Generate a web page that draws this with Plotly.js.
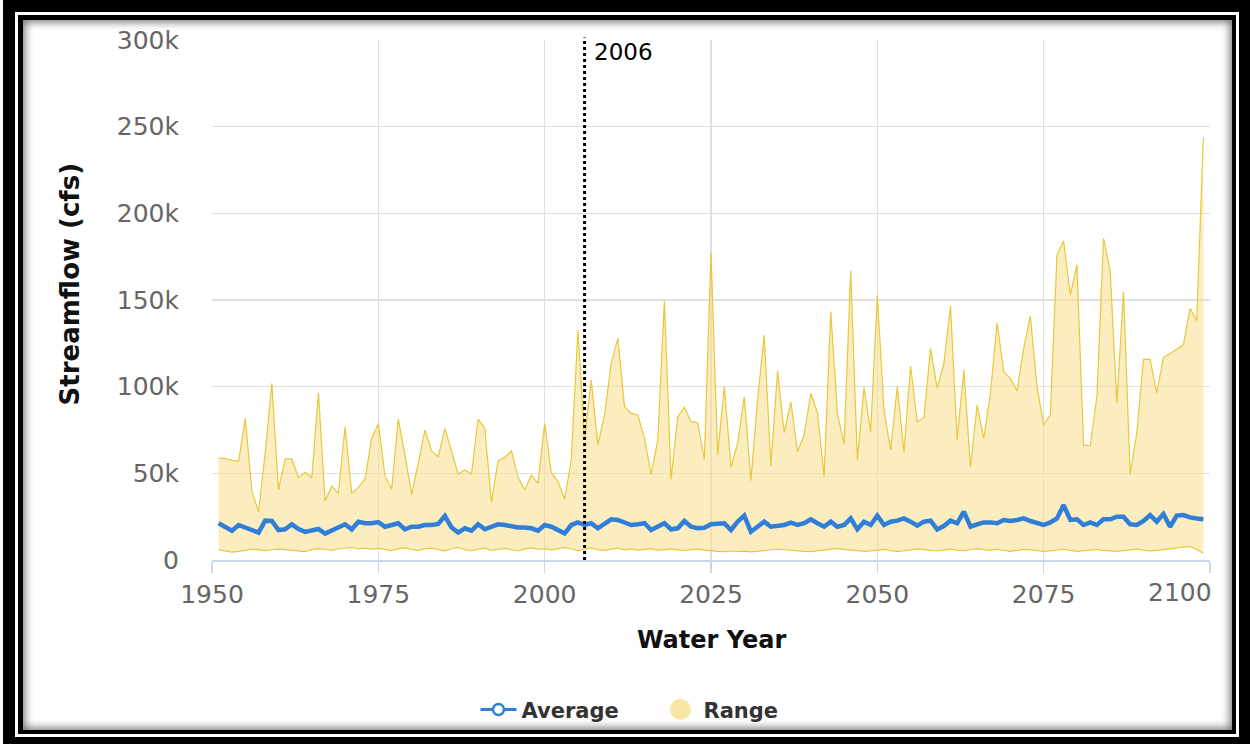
<!DOCTYPE html>
<html>
<head>
<meta charset="utf-8">
<script src="https://cdn.plot.ly/plotly-3.0.1.min.js"></script>
<style>
  html, body { margin: 0; padding: 0; background: #fff; }
  #page { position: relative; width: 1250px; height: 744px; overflow: hidden; background: #fff; }
  .frame { position: absolute; }
  #f1 { left: 3px; top: 0; width: 1247px; height: 744px; background: #000; }
  #f2 { left: 15px; top: 12px; width: 1224px; height: 725px; background: #fff; }
  #f3 { left: 18px; top: 15px; width: 1218px; height: 719px; background: #000; }
  #f4 { left: 23px; top: 20px; width: 1209px; height: 710px; background: #fff;
        box-shadow: inset 0 0 9px 2px rgba(0,0,0,0.55); }
  #chart { position: absolute; left: 0; top: 0; width: 1250px; height: 744px; }
</style>
</head>
<body>
<div id="page">
  <div class="frame" id="f1"></div>
  <div class="frame" id="f2"></div>
  <div class="frame" id="f3"></div>
  <div class="frame" id="f4"></div>
  <div id="chart"></div>
</div>
<script>
// Water years covered by the series
const firstYear = 1951;

// Upper bound of the streamflow range (thousand cfs), 1951-2099
const rangeHigh = [
  58.7, 58.5, 57.5, 57.0, 81.7, 39.4, 27.9, 62.0, 101.9, 40.4, 58.3, 58.3, 47.5, 50.6, 47.5, 96.5, 34.0, 42.7, 38.5, 76.9, 38.5, 41.9, 46.7, 70.2, 78.8,
  48.5, 40.8, 81.3, 60.6, 37.9, 55.8, 75.0, 62.9, 59.6, 75.8, 62.5, 49.6, 51.9, 49.6, 81.3, 76.0, 33.3, 57.3, 59.2, 62.9, 47.7, 40.4, 49.0, 44.2, 78.8,
  50.6, 45.2, 35.0, 57.7, 132.7, 70.0, 103.8, 66.3, 83.7, 113.5, 127.9, 88.5, 84.6, 83.7, 70.2, 49.6, 69.2, 149.4, 46.5, 82.7, 88.1, 79.8, 79.2, 58.1, 177.3,
  60.6, 100.4, 53.5, 67.3, 94.2, 45.8, 92.3, 129.8, 54.2, 109.2, 73.5, 91.3, 62.5, 72.1, 96.2, 85.0, 48.1, 143.3, 84.6, 66.9, 166.9, 57.7, 99.6, 74.0, 152.9,
  86.5, 63.5, 100.0, 62.5, 111.9, 79.8, 82.1, 122.1, 99.0, 113.5, 146.5, 69.2, 109.6, 53.5, 89.4, 70.2, 96.2, 136.9, 108.7, 104.8, 97.5, 122.1, 140.8, 100.0, 77.9,
  83.7, 176.0, 184.2, 152.9, 170.2, 66.3, 66.0, 94.2, 185.6, 166.3, 90.4, 154.8, 49.6, 73.1, 115.8, 115.8, 96.2, 116.9, 119.2, 121.5, 124.0, 145.2, 138.1, 243.8
];

// Lower bound of the streamflow range (thousand cfs)
const rangeLow = [
  5.8, 5.2, 4.6, 5.0, 5.6, 6.2, 5.8, 5.4, 5.9, 6.3, 6.0, 5.5, 5.2, 4.8, 6.0, 6.6, 6.2, 5.6, 6.5, 6.8, 7.2, 6.4, 6.9, 6.3, 6.8,
  6.0, 5.4, 6.6, 7.0, 6.2, 5.6, 6.4, 6.9, 6.1, 5.3, 6.5, 7.2, 6.0, 5.2, 6.3, 6.8, 5.5, 6.1, 6.7, 5.9, 5.2, 6.4, 7.0, 6.2, 6.6,
  5.8, 6.7, 7.3, 6.5, 5.4, 6.2, 6.9, 6.0, 5.6, 6.3, 6.8, 5.9, 6.4, 5.7, 6.2, 6.6, 5.6, 6.1, 6.4, 5.8, 5.5, 6.0, 6.3, 5.7, 5.2,
  5.0, 4.8, 5.2, 4.9, 5.1, 4.7, 5.0, 5.4, 5.8, 6.2, 5.9, 5.5, 5.2, 5.0, 4.8, 5.3, 5.7, 6.3, 6.7, 6.1, 5.6, 5.2, 5.0, 5.3, 5.8,
  6.1, 5.4, 5.0, 5.3, 5.9, 6.4, 6.0, 5.5, 5.2, 5.8, 6.3, 5.7, 5.4, 5.9, 6.6, 6.0, 5.6, 6.2, 5.4, 5.0, 5.6, 6.1, 5.8, 5.2, 4.9,
  5.3, 5.7, 6.2, 5.5, 5.0, 5.4, 5.8, 6.1, 5.6, 5.2, 5.0, 5.4, 5.9, 6.3, 5.7, 5.3, 5.6, 6.0, 6.4, 6.8, 7.4, 7.8, 6.2, 3.9
];

// Average annual streamflow (thousand cfs)
const average = [
  21.2, 18.8, 16.9, 20.2, 18.8, 17.7, 15.8, 22.7, 22.5, 17.3, 17.7, 20.6, 17.9, 16.2, 16.9, 17.9, 15.2, 16.9, 18.8, 20.6, 17.7, 22.1, 21.2, 21.2, 21.9,
  19.2, 20.2, 21.2, 17.7, 19.2, 19.2, 20.2, 20.2, 20.8, 25.4, 18.8, 15.8, 18.3, 16.9, 20.6, 17.7, 19.2, 20.6, 20.2, 19.2, 18.8, 18.8, 18.3, 16.9, 20.2,
  19.2, 17.3, 15.4, 20.2, 21.7, 20.2, 21.2, 18.3, 21.2, 23.5, 23.1, 21.7, 20.2, 20.6, 21.2, 17.3, 19.2, 21.2, 17.7, 18.3, 22.5, 19.2, 18.3, 18.6, 20.6,
  20.6, 21.2, 17.3, 22.1, 25.6, 16.3, 19.2, 22.1, 19.2, 19.6, 20.2, 21.5, 20.2, 21.2, 23.5, 21.2, 19.2, 22.1, 19.2, 20.2, 24.0, 17.7, 22.1, 20.2, 25.6,
  20.2, 22.1, 22.7, 24.0, 22.1, 19.8, 22.1, 22.7, 17.7, 19.6, 22.7, 21.2, 27.9, 19.2, 20.6, 21.7, 21.7, 21.2, 23.1, 22.5, 23.1, 24.0, 22.5, 21.2, 20.2,
  21.7, 24.0, 31.7, 23.1, 23.5, 20.2, 21.7, 20.2, 23.5, 23.5, 25.0, 25.0, 20.6, 20.2, 22.5, 25.9, 22.1, 26.5, 19.2, 25.6, 25.9, 24.6, 24.0, 23.5
];

// Axis ticks
const xTicks = [1950, 1975, 2000, 2025, 2050, 2075, 2100];
const xTickText = ['1950', '1975', '2000', '2025', '2050', '2075', ''];
const lastXTick = '2100';
const yTicks = [0, 50000, 100000, 150000, 200000, 250000, 300000];
const yTickText = ['0', '50k', '100k', '150k', '200k', '250k', '300k'];

// Start of the projection period
const markerYear = 2006;

const years = rangeHigh.map((_, i) => firstYear + i);
const toCfs = arr => arr.map(v => v * 1000);

const FONT = 'DejaVu Sans, Verdana, sans-serif';
const BLUE = '#2f7ed8';
const GOLD = '#e8c83a';
const FILL = 'rgba(248, 222, 140, 0.55)';

const traces = [
  {
    x: years, y: toCfs(rangeLow), type: 'scatter', mode: 'lines',
    line: { color: GOLD, width: 1.2 }, showlegend: false, hoverinfo: 'skip'
  },
  {
    x: years, y: toCfs(rangeHigh), type: 'scatter', mode: 'lines',
    fill: 'tonexty', fillcolor: FILL,
    line: { color: GOLD, width: 1.2 }, showlegend: false, name: 'Range'
  },
  {
    x: years, y: toCfs(average), type: 'scatter', mode: 'lines',
    line: { color: BLUE, width: 4.5 }, showlegend: false, name: 'Average'
  },
  // legend entries
  {
    x: [null], y: [null], type: 'scatter', mode: 'lines+markers', name: 'Average',
    line: { color: BLUE, width: 3 },
    marker: { symbol: 'circle', size: 11, color: '#ffffff', line: { color: BLUE, width: 2.5 } }
  },
  {
    x: [null], y: [null], type: 'scatter', mode: 'markers', name: 'Range',
    marker: { symbol: 'circle', size: 16, color: '#f9e6a6', line: { color: '#f9e6a6', width: 5 } }
  }
];

const layout = {
  width: 1250, height: 744,
  paper_bgcolor: 'rgba(0,0,0,0)', plot_bgcolor: 'rgba(0,0,0,0)',
  margin: { l: 212, r: 40, t: 40, b: 184, autoexpand: false },
  font: { family: FONT, color: '#666' },
  showlegend: true,
  legend: {
    orientation: 'h', x: 0.264, xanchor: 'left',
    y: -0.288, yanchor: 'middle', traceorder: 'normal',
    font: { family: FONT, size: 21, color: '#333', weight: 'bold' },
    bgcolor: 'rgba(0,0,0,0)', itemwidth: 36, tracegroupgap: 0,
    entrywidth: 131, entrywidthmode: 'pixels'
  },
  xaxis: {
    range: [1950, 2100], tickmode: 'array', tickvals: xTicks, ticktext: xTickText, tickangle: 0,
    showgrid: true, gridcolor: '#e0e0e0', gridwidth: 1.2,
    showline: true, linecolor: '#ccd6eb', linewidth: 1.5,
    ticks: 'outside', ticklen: 11, tickcolor: '#ccd6eb', tickwidth: 1.5,
    tickfont: { family: FONT, size: 25, color: '#666' },
    zeroline: false, fixedrange: true, automargin: false
  },
  yaxis: {
    range: [0, 300000], tickmode: 'array', tickvals: yTicks, ticktext: yTickText,
    showgrid: true, gridcolor: '#e0e0e0', gridwidth: 1.2,
    showline: false, zeroline: false, ticks: '',
    ticklabelstandoff: 32,
    tickfont: { family: FONT, size: 25, color: '#666' },
    fixedrange: true, automargin: false
  },
  shapes: [
    {
      type: 'line', xref: 'x', yref: 'paper', x0: markerYear, x1: markerYear, y0: 0, y1: 1.005,
      line: { color: '#000', width: 3, dash: 'dot' }, layer: 'above'
    }
  ],
  annotations: [
    {
      xref: 'x', yref: 'paper', x: markerYear, y: 1, xanchor: 'left', yanchor: 'top',
      xshift: 7, yshift: 3, showarrow: false, text: String(markerYear),
      font: { family: FONT, size: 23, color: '#000' }
    },
    {
      // last year label kept inside the plot's right edge
      xref: 'x', yref: 'paper', x: 2100, y: 0, xanchor: 'right', yanchor: 'middle',
      xshift: 4, yshift: -32, showarrow: false, text: lastXTick,
      font: { family: FONT, size: 25, color: '#666' }
    },
    {
      xref: 'paper', yref: 'paper', x: 0.5, y: -0.154, xanchor: 'center', yanchor: 'middle',
      showarrow: false, text: '<b>Water Year</b>',
      font: { family: FONT, size: 24, color: '#111' }
    },
    {
      xref: 'paper', yref: 'paper', x: -0.1423, y: 0.53, xanchor: 'center', yanchor: 'middle',
      showarrow: false, textangle: -90, text: '<b>Streamflow (cfs)</b>',
      font: { family: FONT, size: 26, color: '#111' }
    }
  ]
};

Plotly.newPlot('chart', traces, layout, { displayModeBar: false, staticPlot: true });
</script>
</body>
</html>
